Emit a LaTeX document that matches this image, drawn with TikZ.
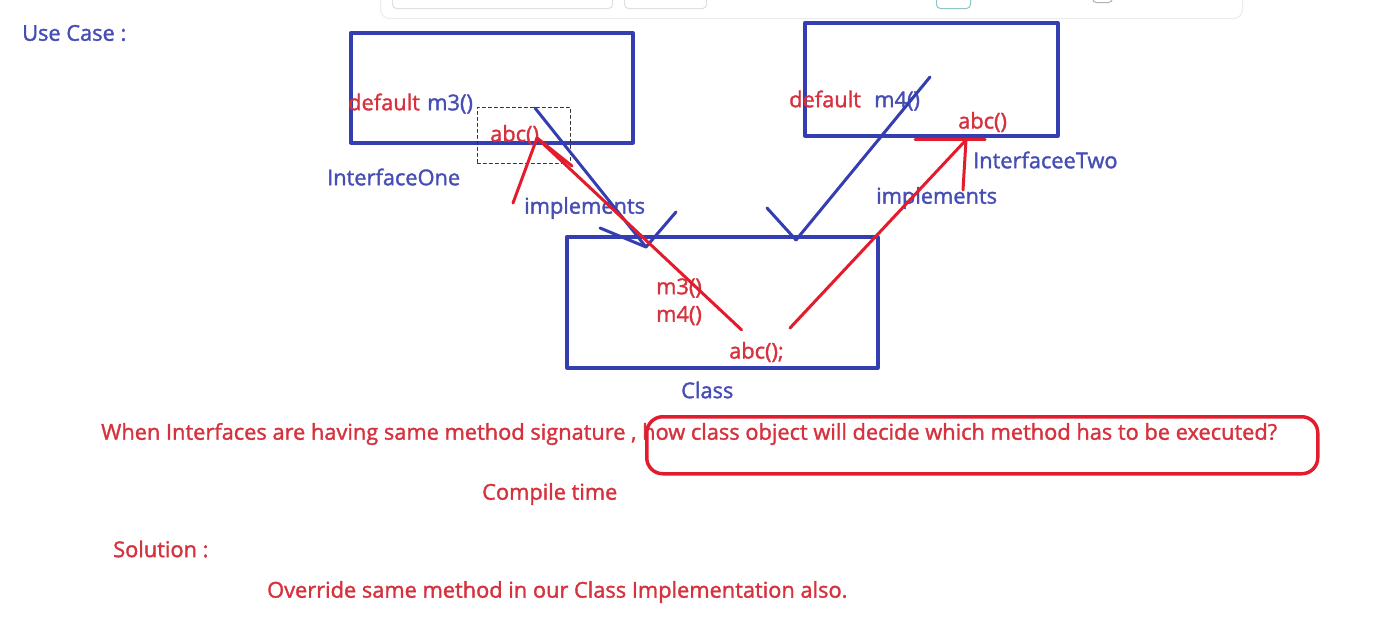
\documentclass[tikz,border=0pt]{standalone}
\usepackage{fontspec}
\setmainfont{Open Sans}[FakeBold=1.6]
\usetikzlibrary{positioning}
\definecolor{penblue}{RGB}{52,62,176}
\definecolor{penred}{RGB}{226,28,44}
\definecolor{inkblue}{RGB}{70,78,180}
\definecolor{inkred}{RGB}{214,50,62}
\begin{document}
\begin{tikzpicture}[x=1pt,y=-1pt,line cap=round,line join=round,node distance=7pt]
		\tikzstyle{ifbox}=[rectangle,draw=penblue,line width=3.5pt,inner sep=0pt,anchor=north west]
		\tikzstyle{bluetxt}=[text=inkblue,inner sep=0pt,anchor=west,font=\fontsize{21.8}{25}\selectfont]
		\tikzstyle{redtxt}=[text=inkred,inner sep=0pt,anchor=west,font=\fontsize{21.8}{25}\selectfont]
		\tikzstyle{bluepen}=[draw=penblue,line width=3pt]
		\tikzstyle{redpen}=[draw=penred,line width=3pt]
		\tikzstyle{barbox}=[rectangle,rounded corners=4pt,draw=black!12,line width=1pt,inner sep=0pt,anchor=north west]
		
		\useasboundingbox (0,0) rectangle (1379,621);
		
		% toolbar at the top
		\node[barbox,fill=white,draw=black!8,rounded corners=9pt,minimum width=862pt,minimum height=30pt] (toolbar) at (380,-12) {};
		\node[barbox,minimum width=220pt,minimum height=14pt] (tool1) at (392,-6) {};
		\node[barbox,minimum width=82pt,minimum height=14pt] (tool2) at (624,-6) {};
		\node[barbox,draw=teal!45,minimum width=34pt,minimum height=14pt] (tool3) at (936,-6) {};
		\node[barbox,draw=black!30,minimum width=20pt,minimum height=8pt] (tool4) at (1092,-6) {};
		
		\node[bluetxt] (usecase) at (22,33) {Use Case :};
		
		% the two interfaces and the class
		\node[ifbox,minimum width=282pt,minimum height=110pt] (ifone) at (349,31) {};
		\node[ifbox,minimum width=253pt,minimum height=113pt] (iftwo) at (803,21) {};
		\node[ifbox,minimum width=311pt,minimum height=131pt] (cls) at (565,235) {};
		\node[rectangle,draw=black!80,dashed,line width=0.8pt,inner sep=0pt,anchor=north west,minimum width=93pt,minimum height=56pt] (pick) at (477,107) {};
		
		\node[redtxt] (dflt1) at (348,102) {default};
		\node[bluetxt,base right=7pt of dflt1] (m3one) {m3()};
		\node[redtxt] (abcone) at (490,135) {abc()};
		\node[bluetxt] (nameone) at (327,177) {InterfaceOne};
		
		\node[redtxt] (dflt2) at (789,99) {default};
		\node[bluetxt,base right=13pt of dflt2] (m4two) {m4()};
		\node[redtxt] (abctwo) at (958,122) {abc()};
		\node[bluetxt] (nametwo) at (973,160) {InterfaceeTwo};
		
		\node[redtxt] (m3cls) at (656,288) {m3()};
		\node[redtxt,below=8pt of m3cls.south west,anchor=north west] (m4cls) {m4()};
		\node[redtxt] (abccls) at (729,352) {abc();};
		\node[bluetxt] (namecls) at (681,390) {Class};
		
		\node[bluetxt] (implone) at (524,208) {implements};
		\node[bluetxt] (impltwo) at (876,198) {implements};
		
		% question and answer
		\node[redtxt] (question) at (101,434) {When Interfaces are having same method signature , how class object will decide which method has to be executed?};
		\node[rectangle,draw=penred,line width=3.5pt,rounded corners=16pt,inner sep=0pt,anchor=north west,minimum width=671pt,minimum height=57pt] (ring) at (645,415) {};
		\node[redtxt] (compile) at (482,494) {Compile time};
		\node[redtxt] (solution) at (113,549) {Solution :};
		\node[redtxt] (override) at (267,592) {Override same method in our Class Implementation also.};
		
		% hand drawn strokes
		\coordinate (tipone) at (646,247);
		\coordinate (tiptwo) at (796,240);
		\coordinate (redone) at (537,138);
		\coordinate (redtwo) at (966,140);
		\draw[bluepen] (535,108) -- (tipone);
		\draw[bluepen] (tipone) ++(-46,-19) -- (tipone) -- ++(30,-35);
		\draw[bluepen] (930,77) -- (tiptwo);
		\draw[bluepen] (tiptwo) ++(-29,-32) -- (tiptwo);
		\draw[redpen] (abccls.north) ++(-15,-12) -- (redone);
		\draw[redpen] (redone) -- ++(-24,65);
		\draw[redpen] (redone) -- ++(35,28);
		\draw[redpen] (790,328) -- (redtwo);
		\draw[redpen] (915,139) -- (985,139);
		\draw[redpen] (redtwo) -- ++(-3,50);
	\end{tikzpicture}
\end{document}
